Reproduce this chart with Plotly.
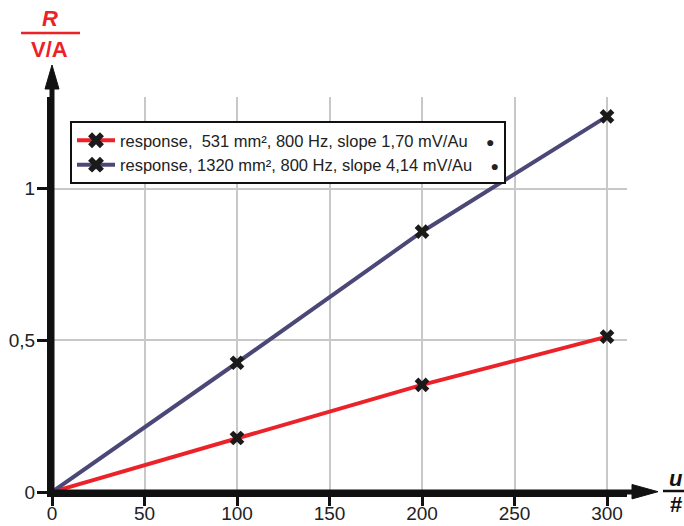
import plotly.graph_objects as go

# measured responses
u_values = [0, 100, 200, 300]
resp_small = [0, 0.178, 0.353, 0.512]   # 531 mm²
resp_large = [0, 0.426, 0.858, 1.238]   # 1320 mm²
names = [
    "response,  531 mm², 800 Hz, slope 1,70 mV/Au",
    "response, 1320 mm², 800 Hz, slope 4,14 mV/Au",
]
colors = ["#ec2229", "#4b4878"]
x_ticks = [0, 50, 100, 150, 200, 250, 300]
y_ticks = [0, 0.5, 1]

W, H = 684, 526
L, R, T, B = 52, 57, 97, 34
PW, PH = W - L - R, H - T - B
FONT = "Liberation Sans, Arial, sans-serif"


def px(xp):
    return (xp - L) / PW


def py(yp):
    return (H - B - yp) / PH


fig = go.Figure()
for name, ys, col in zip(names, [resp_small, resp_large], colors):
    fig.add_trace(go.Scatter(x=u_values, y=ys, mode="lines",
                             line=dict(color=col, width=4), showlegend=False,
                             hoverinfo="skip"))
    fig.add_trace(go.Scatter(x=u_values[1:], y=ys[1:], mode="markers",
                             marker=dict(symbol="x", size=13, color="#1a1a1a"),
                             showlegend=False))
    fig.add_trace(go.Scatter(x=[None], y=[None], mode="lines+markers",
                             name=name + "    <span style='font-size:14px'>●</span>",
                             line=dict(color=col, width=4),
                             marker=dict(symbol="x", size=14, color="#1a1a1a")))

fig.update_layout(
    width=W, height=H,
    margin=dict(l=L, r=R, t=T, b=B, autoexpand=False),
    paper_bgcolor="white", plot_bgcolor="white",
    separators=",.",
    font=dict(family=FONT, size=19, color="#222222"),
    xaxis=dict(range=[0, PW / 1.85], tickvals=x_ticks, showgrid=True,
               gridcolor="#c8c8c8", gridwidth=2, zeroline=False, automargin=False,
               showline=True, linecolor="#111111", linewidth=5,
               ticks="outside", ticklen=9, tickwidth=3, tickcolor="#111111",
               ticklabelstandoff=-9),
    yaxis=dict(range=[0, PH / 303.4], tickvals=y_ticks, showgrid=True,
               gridcolor="#c8c8c8", gridwidth=2, zeroline=False, automargin=False,
               showline=True, linecolor="#111111", linewidth=5,
               ticks="outside", ticklen=10, tickwidth=3, tickcolor="#111111",
               ticklabelstandoff=-2),
    legend=dict(x=px(70), y=py(121), xanchor="left", yanchor="top",
                bgcolor="white", bordercolor="#111111", borderwidth=2,
                font=dict(family=FONT, size=16.5, color="#222222"),
                tracegroupgap=0, itemwidth=38),
    showlegend=True,
)

shapes = []
# axis arrows
shapes.append(dict(type="line", xref="paper", yref="paper",
                   x0=0, x1=0, y0=0, y1=py(88), line=dict(color="#111111", width=5)))
shapes.append(dict(type="path", xref="paper", yref="paper",
                   path=f"M {px(52)} {py(65)} L {px(45)} {py(89)} L {px(59)} {py(89)} Z",
                   fillcolor="#111111", line=dict(color="#111111", width=1)))
shapes.append(dict(type="line", xref="paper", yref="paper",
                   x0=0, x1=px(634), y0=0, y1=0, line=dict(color="#111111", width=5)))
shapes.append(dict(type="path", xref="paper", yref="paper",
                   path=f"M {px(658)} {py(491.7)} L {px(632)} {py(484.5)} L {px(632)} {py(498.9)} Z",
                   fillcolor="#111111", line=dict(color="#111111", width=1)))
# fraction bars of the axis titles
shapes.append(dict(type="line", xref="paper", yref="paper",
                   x0=px(21), x1=px(80), y0=py(33), y1=py(33),
                   line=dict(color="#ec2229", width=2.5)))
shapes.append(dict(type="line", xref="paper", yref="paper",
                   x0=px(663), x1=px(684), y0=py(491), y1=py(491),
                   line=dict(color="#111111", width=2.5)))
fig.update_layout(shapes=shapes)

annotations = [
    dict(text="<b><i>R</i></b>", x=px(50), y=py(18), color="#ec2229"),
    dict(text="<b>V/A</b>", x=px(49), y=py(49), color="#ec2229"),
    dict(text="<b><i>u</i></b>", x=px(676), y=py(478), color="#111111"),
    dict(text="<b>#</b>", x=px(676), y=py(504), color="#111111"),
]
for a in annotations:
    fig.add_annotation(text=a["text"], x=a["x"], y=a["y"], xref="paper", yref="paper",
                       showarrow=False, xanchor="center", yanchor="middle",
                       font=dict(family=FONT, size=22, color=a["color"]))

fig.write_html("out.html")
